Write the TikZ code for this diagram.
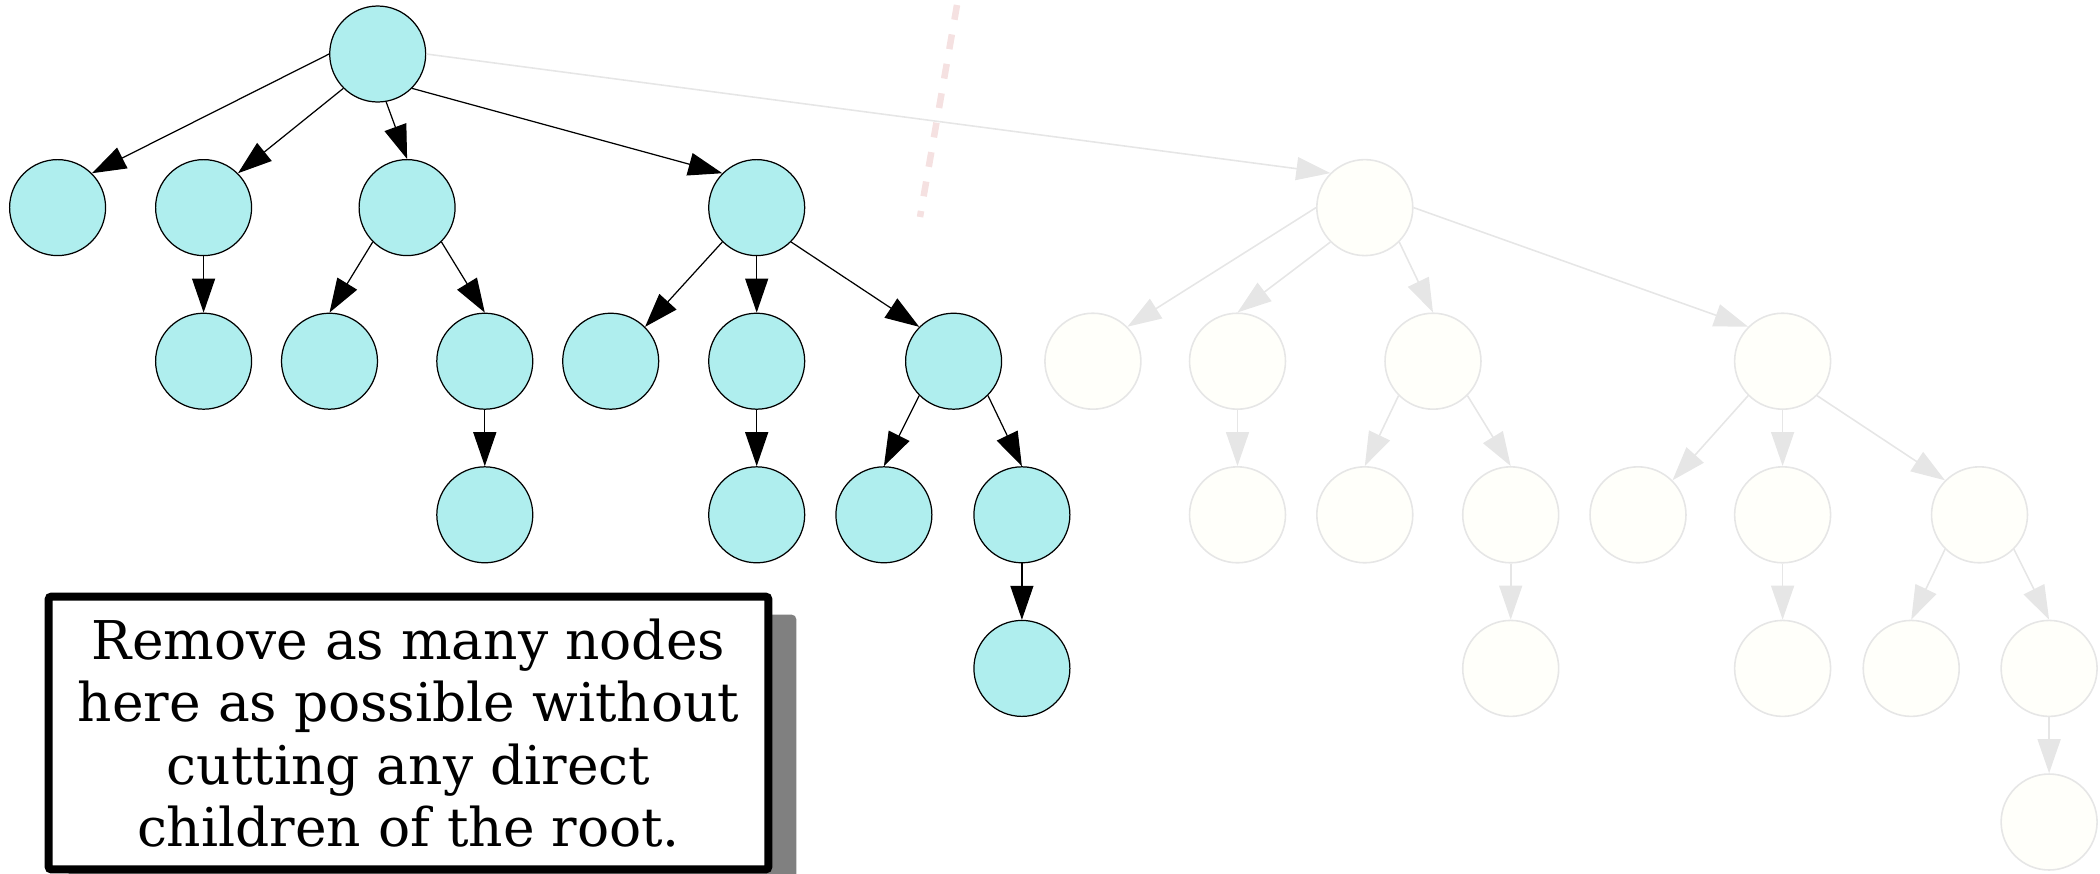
\documentclass[tikz,border=0pt]{standalone}
\usepackage{fontspec}
\usetikzlibrary{arrows.meta,calc,backgrounds}
\newfontfamily\notefont{DejaVu Serif}
\definecolor{keepfill}{HTML}{AFEEEE}
\definecolor{ghostfill}{HTML}{FFFFFA}
\definecolor{ghostline}{HTML}{E6E6E6}
\definecolor{cutpink}{HTML}{F5E1E1}
\definecolor{shadowgray}{HTML}{808080}

\begin{document}
\begin{tikzpicture}[x=.02cm,y=-.02cm,
 kept/.style={circle,draw=black,fill=keepfill,line width=.7pt,minimum size=1.92cm,inner sep=0pt},
 ghost/.style={circle,draw=ghostline,fill=ghostfill,line width=.9pt,minimum size=1.92cm,inner sep=0pt},
 keptedge/.style={black,line width=.7pt,-{Triangle[length=6.8mm,width=4.6mm]}},
 ghostedge/.style={ghostline,line width=.9pt,-{Triangle[length=6.8mm,width=4.6mm]}},
 notebox/.style={draw,fill=white,line width=.16cm,rounded corners=.6mm,minimum width=14.4cm,minimum height=5.46cm,
   inner sep=0pt,align=center,font=\notefont\fontsize{30.4}{35.5}\selectfont}]
 \useasboundingbox(0,0)rectangle(2100,873);
 % cut line
 \coordinate(cuttop)at(957,5);\coordinate(cutbot)at(920,217);
 \draw[cutpink,line width=3.7pt,dash pattern=on 8.5pt off 8.5pt](cuttop)--(cutbot);
 % the part that stays
 \node[kept](root)at(377.7,54){};
 \node[kept](c1)at(57.6,207.6){};
 \node[kept](c2)at(203.6,207.6){};
 \node[kept](c3)at(407.1,207.6){};
 \node[kept](c4)at(756.7,207.6){};
 \node[kept](c2a)at(203.6,361.2){};
 \node[kept](c3a)at(329.5,361.2){};
 \node[kept](c3b)at(484.8,361.2){};
 \node[kept](c3ba)at(484.8,514.8){};
 \node[kept](c4a)at(610.7,361.2){};
 \node[kept](c4b)at(756.7,361.2){};
 \node[kept](c4c)at(953.6,361.2){};
 \node[kept](c4ba)at(756.7,514.8){};
 \node[kept](c4ca)at(883.9,514.8){};
 \node[kept](c4cb)at(1021.9,514.8){};
 \node[kept](c4cba)at(1021.9,668.4){};
 % the faded subtree
 \node[ghost](g)at(1364.8,207.6){};
 \node[ghost](ga)at(1092.9,361.2){};
 \node[ghost](gb)at(1237.5,361.2){};
 \node[ghost](gc)at(1433,361.2){};
 \node[ghost](gd)at(1782.6,361.2){};
 \node[ghost](gba)at(1237.5,514.8){};
 \node[ghost](gca)at(1364.8,514.8){};
 \node[ghost](gcb)at(1510.7,514.8){};
 \node[ghost](gcba)at(1510.7,668.4){};
 \node[ghost](gda)at(1638,514.8){};
 \node[ghost](gdb)at(1782.6,514.8){};
 \node[ghost](gdc)at(1979.5,514.8){};
 \node[ghost](gdba)at(1782.6,668.4){};
 \node[ghost](gdca)at(1911.2,668.4){};
 \node[ghost](gdcb)at(2049.1,668.4){};
 \node[ghost](gdcba)at(2049.1,822){};
 % edges
 \draw[keptedge](root.180)--(c1.45);
 \draw[keptedge](root.225)--(c2.45);
 \draw[keptedge](root.-80)--(c3.90);
 \draw[keptedge](root.-45)--(c4.135);
 \draw[ghostedge](root.0)--(g.135);
 \draw[keptedge](c2.-90)--(c2a.90);
 \draw[keptedge](c3.225)--(c3a.90);
 \draw[keptedge](c3.-45)--(c3b.90);
 \draw[keptedge](c3b.-90)--(c3ba.90);
 \draw[keptedge](c4.225)--(c4a.45);
 \draw[keptedge](c4.-90)--(c4b.90);
 \draw[keptedge](c4.-45)--(c4c.135);
 \draw[keptedge](c4b.-90)--(c4ba.90);
 \draw[keptedge](c4c.225)--(c4ca.90);
 \draw[keptedge](c4c.-45)--(c4cb.90);
 \draw[keptedge](c4cb.-90)--(c4cba.90);
 \draw[ghostedge](g.180)--(ga.45);
 \draw[ghostedge](g.225)--(gb.90);
 \draw[ghostedge](g.-45)--(gc.90);
 \draw[ghostedge](g.0)--(gd.135);
 \draw[ghostedge](gb.-90)--(gba.90);
 \draw[ghostedge](gc.225)--(gca.90);
 \draw[ghostedge](gc.-45)--(gcb.90);
 \draw[ghostedge](gcb.-90)--(gcba.90);
 \draw[ghostedge](gd.225)--(gda.45);
 \draw[ghostedge](gd.-90)--(gdb.90);
 \draw[ghostedge](gd.-45)--(gdc.135);
 \draw[ghostedge](gdb.-90)--(gdba.90);
 \draw[ghostedge](gdc.225)--(gdca.90);
 \draw[ghostedge](gdc.-45)--(gdcb.90);
 \draw[ghostedge](gdcb.-90)--(gdcba.90);
 % note
 \node[notebox](note)at(408.5,733){Remove as many nodes\\here as possible without\\cutting any direct\\children of the root.};
 \begin{scope}[on background layer]
  \fill[shadowgray,rounded corners=1mm]($(note.south west)+(24,22)$)rectangle($(note.north east)+(24,22)$);
 \end{scope}
\end{tikzpicture}
\end{document}
